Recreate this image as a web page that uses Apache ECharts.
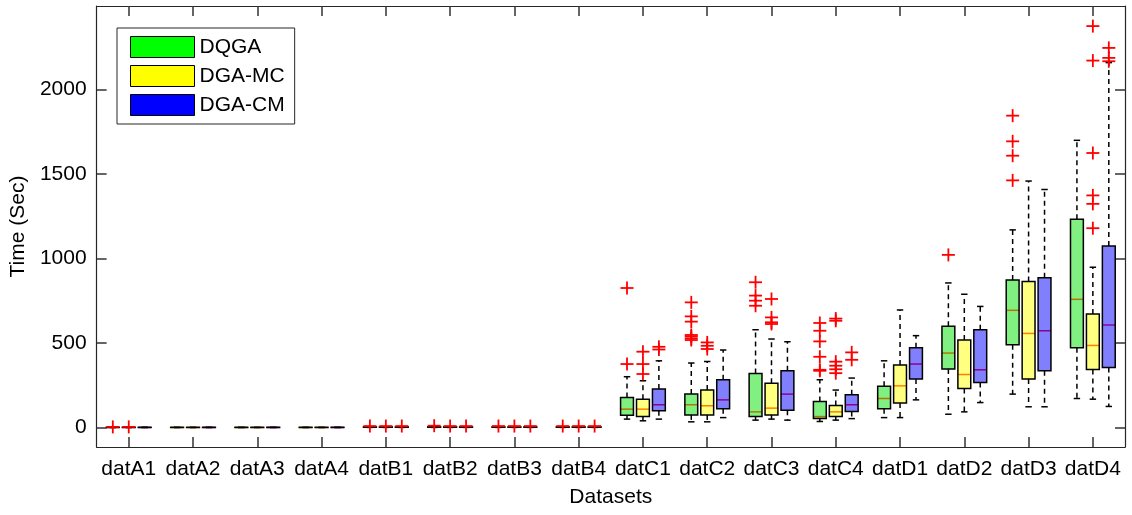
<!DOCTYPE html>
<html>
<head>
<meta charset="utf-8">
<script src="https://cdn.jsdelivr.net/npm/echarts@6/dist/echarts.min.js"></script>
<style>html,body{margin:0;padding:0;background:#fff;}#main{width:1132px;height:515px;}</style>
</head>
<body>
<div id="main"></div>
<script>
const categories = ['datA1','datA2','datA3','datA4','datB1','datB2','datB3','datB4','datC1','datC2','datC3','datC4','datD1','datD2','datD3','datD4'];
const yTicks = [0, 500, 1000, 1500, 2000];

// [min, q1, median, q3, max] per category
const dqgaBox = [
  [0,0.5,1,1.5,2],[0,0.5,1,1.5,2],[0,0.5,1,1.5,2],[0,0.5,1,1.5,2],
  [1,2,3,4,5],[1,2,3,4,6],[1,2,3,4,5],[1,2,3,4,5],
  [50,73,109,178,301],[34,75,135,198,382],[44,65,93,320,579],[36,53,65,154,283],
  [59,111,172,245,395],[79,346,441,599,856],[198,490,694,874,1170],[172,472,759,1233,1700]
];
const dgaMcBox = [
  [0,0.5,1,1.5,2],[0,0.5,1,1.5,2],[0,0.5,1,1.5,2],[0,0.5,1,1.5,2],
  [1,2,3,4,5],[1,2,3,4,5],[1,2,3,4,5],[1,2,3,4,5],
  [40,65,109,168,277],[34,75,129,222,391],[50,75,115,263,524],[44,65,93,130,222],
  [59,145,247,370,696],[93,231,314,518,789],[123,287,557,864,1459],[168,344,486,672,949]
];
const dgaCmBox = [
  [0,0.5,1,1.5,2],[0,0.5,1,1.5,2],[0,0.5,1,1.5,2],[0,0.5,1,1.5,2],
  [1,2,3,4,5],[1,2,3,4,5],[1,2,3,4,5],[1,2,3,4,5],
  [50,99,135,228,395],[59,111,164,283,459],[44,103,198,336,508],[53,95,135,194,293],
  [164,287,376,472,544],[148,267,342,579,717],[123,336,573,886,1409],[125,356,607,1075,2160]
];

// outliers per category
const dqgaOut = [
  [4],[],[],[],
  [9],[11],[9],[9],
  [376,826],[518,528,540,548,627,658,741],[721,751,781,860],[336,342,419,510,573,619],
  [],[1022],[1463,1609,1694,1846],[]
];
const dgaMcOut = [
  [4],[],[],[],
  [9],[9],[9],[9],
  [317,376,449],[465,484,504],[613,623,652,761],[322,345,366,390,632,645],
  [],[],[],[1180,1324,1374,1625,2172,2376]
];
const dgaCmOut = [
  [],[],[],[],
  [9],[9],[9],[9],
  [462,478],[],[],[401,445],
  [],[],[],[2168,2188,2247]
];

const seriesNames = ['DQGA','DGA-MC','DGA-CM'];
const legendColors = ['#00ff00','#ffff00','#0000ff'];
const fillColors = ['#80f080','#ffff80','#8080ff'];
const medianColors = ['#b07800','#ff8000','#900090'];
const offsets = [-0.248, 0, 0.248];

function boxData(stats){ return stats.map((s,i)=>[i].concat(s)); }
function outData(outs){ const r=[]; outs.forEach((arr,i)=>arr.forEach(v=>r.push([i,v]))); return r; }

function makeBoxRender(k){
  return function(params, api){
    const cat = api.value(0);
    const bw = api.size([1,0])[0];
    const cx = api.coord([cat,0])[0] + offsets[k]*bw;
    const w = bw*0.2;
    const yMin = api.coord([cat, api.value(1)])[1];
    const yQ1 = api.coord([cat, api.value(2)])[1];
    const yMed = api.coord([cat, api.value(3)])[1];
    const yQ3 = api.coord([cat, api.value(4)])[1];
    const yMax = api.coord([cat, api.value(5)])[1];
    const capHalf = w*0.25;
    const dash = {stroke:'#000', lineWidth:1.5, lineDash:[5,4]};
    const solid = {stroke:'#000', lineWidth:1.5};
    const rectShape = {x:cx-w/2,y:yQ3,width:w,height:Math.max(yQ1-yQ3,0)};
    return {type:'group', children:[
      {type:'line', shape:{x1:cx,y1:yQ3,x2:cx,y2:yMax}, style:dash},
      {type:'line', shape:{x1:cx,y1:yQ1,x2:cx,y2:yMin}, style:dash},
      {type:'line', shape:{x1:cx-capHalf,y1:yMax,x2:cx+capHalf,y2:yMax}, style:solid},
      {type:'line', shape:{x1:cx-capHalf,y1:yMin,x2:cx+capHalf,y2:yMin}, style:solid},
      {type:'rect', shape:rectShape, style:{fill:fillColors[k], stroke:null}},
      {type:'line', shape:{x1:cx-w/2,y1:yMed,x2:cx+w/2,y2:yMed}, style:{stroke:medianColors[k], lineWidth:1.5}},
      {type:'rect', shape:rectShape, style:{fill:null, stroke:'#000', lineWidth:1.5}}
    ]};
  };
}
function makeOutRender(k){
  return function(params, api){
    const cat = api.value(0);
    const bw = api.size([1,0])[0];
    const cx = api.coord([cat,0])[0] + offsets[k]*bw;
    const y = api.coord([cat, api.value(1)])[1];
    const h = 6.5;
    const st = {stroke:'#ff0000', lineWidth:1.8};
    return {type:'group', children:[
      {type:'line', shape:{x1:cx-h,y1:y,x2:cx+h,y2:y}, style:st},
      {type:'line', shape:{x1:cx,y1:y-h,x2:cx,y2:y+h}, style:st}
    ]};
  };
}

const boxes = [dqgaBox, dgaMcBox, dgaCmBox];
const outs = [dqgaOut, dgaMcOut, dgaCmOut];
const series = [];
for (let k=0;k<3;k++){
  series.push({
    name: seriesNames[k], type:'custom', renderItem: makeBoxRender(k),
    itemStyle:{color: legendColors[k]},
    encode:{x:0, y:[1,2,3,4,5]}, data: boxData(boxes[k]), z:2
  });
}
for (let k=0;k<3;k++){
  series.push({
    name: seriesNames[k]+' outliers', type:'custom', renderItem: makeOutRender(k),
    itemStyle:{color:'#ff0000'},
    encode:{x:0, y:1}, data: outData(outs[k]), z:3
  });
}

const FONT = 'Liberation Sans, Arial, Helvetica, sans-serif';
const axisColor = '#262626';
function ticks(extra){
  return Object.assign({show:true, inside:true, length:10, lineStyle:{color:'#333333', width:1.5}}, extra);
}
const chart = echarts.init(document.getElementById('main'), null, {renderer:'canvas'});
chart.setOption({
  animation:false,
  backgroundColor:'#fff',
  textStyle:{fontFamily:FONT},
  grid:{left:95, right:7, top:6, bottom:68, containLabel:false},
  legend:{
    data: seriesNames.map((n,i)=>({name:n, itemStyle:{color:legendColors[i], borderColor:'#000', borderWidth:1}})),
    orient:'vertical', left:117, top:28,
    icon:'rect', itemWidth:64, itemHeight:21, itemGap:7,
    padding:[8,10,8,13],
    backgroundColor:'#fff', borderColor:'#262626', borderWidth:1,
    textStyle:{fontSize:21, color:'#000', fontFamily:FONT},
    selectedMode:false
  },
  xAxis:[
    {type:'category', data:categories, position:'bottom', boundaryGap:true,
     axisLine:{show:true, onZero:false, lineStyle:{color:axisColor, width:1.2}},
     axisTick:ticks({alignWithLabel:true, interval:0}),
     axisLabel:{fontSize:21, color:'#000', margin:12, fontFamily:FONT, interval:0},
     splitLine:{show:false},
     name:'Datasets', nameLocation:'middle', nameGap:40,
     nameTextStyle:{fontSize:21, color:'#000', fontFamily:FONT}},
    {type:'category', data:categories, position:'top', boundaryGap:true,
     axisLine:{show:true, onZero:false, lineStyle:{color:axisColor, width:1.2}},
     axisTick:ticks({alignWithLabel:true, interval:0}),
     axisLabel:{show:false}, splitLine:{show:false}}
  ],
  yAxis:[
    {type:'value', min:-115, max:2495, position:'left',
     axisLine:{show:true, onZero:false, lineStyle:{color:axisColor, width:1.2}},
     axisTick:ticks({customValues:yTicks}),
     axisLabel:{fontSize:21, color:'#000', margin:10, fontFamily:FONT, customValues:yTicks,
       formatter:function(v){return String(v);}},
     splitLine:{show:false},
     name:'Time (Sec)', nameLocation:'middle', nameGap:65, nameRotate:90,
     nameTextStyle:{fontSize:21, color:'#000', fontFamily:FONT}},
    {type:'value', min:-115, max:2495, position:'right',
     axisLine:{show:true, onZero:false, lineStyle:{color:axisColor, width:1.2}},
     axisTick:ticks({customValues:yTicks}),
     axisLabel:{show:false, customValues:yTicks}, splitLine:{show:false}}
  ],
  series: series
});
</script>
</body>
</html>
